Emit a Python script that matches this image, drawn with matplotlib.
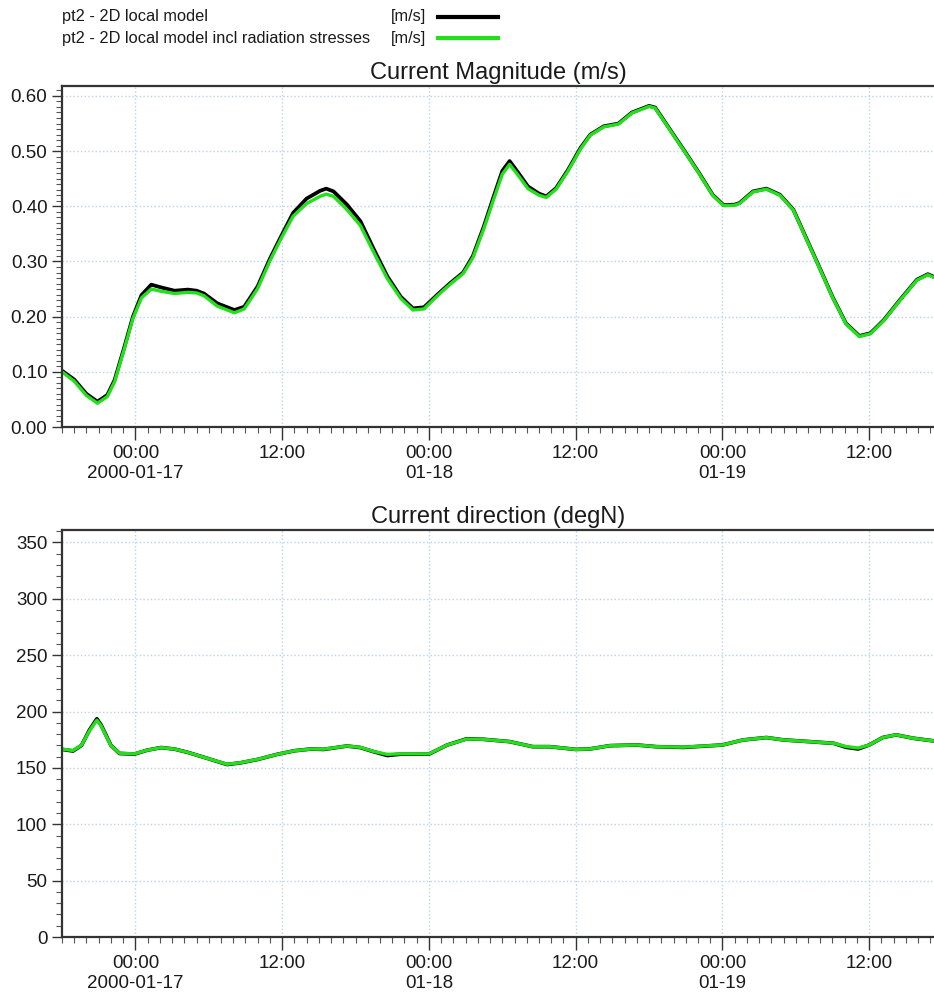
import matplotlib
matplotlib.use('Agg')
import matplotlib.pyplot as plt
import matplotlib.dates as mdates
from matplotlib.ticker import MultipleLocator, FuncFormatter
from matplotlib.lines import Line2D
import pandas as pd

plt.rcParams['font.family'] = ['Liberation Sans', 'DejaVu Sans']

start = pd.Timestamp('2000-01-16 18:00')

# hours after start, current magnitude (m/s)
mag_hours = [0, 1.0, 2.0, 2.9, 3.7, 4.3, 5.1, 5.8, 6.5, 7.3, 8.1, 9.2, 10.3, 11.0,
             11.6, 12.7, 14.1, 14.9, 16.0, 17.0, 17.9, 18.9, 20.0, 21.1, 21.6, 22.2,
             23.3, 24.4, 25.5, 26.6, 27.7, 28.7, 29.6, 30.7, 31.7, 32.8, 33.6, 34.5,
             35.3, 36.0, 36.6, 37.3, 38.1, 39.0, 39.6, 40.4, 41.4, 42.4, 43.2, 44.3,
             45.5, 46.6, 48.0, 48.5, 49.9, 51.0, 52.1, 53.2, 54.1, 55.0, 55.4, 56.5,
             57.6, 58.7, 59.8, 60.8, 61.9, 63.0, 64.1, 65.2, 66.1, 67.2, 68.5, 69.9,
             70.8, 71.3]
mag_local = [0.102, 0.086, 0.060, 0.046, 0.058, 0.085, 0.145, 0.200, 0.239, 0.258,
             0.253, 0.247, 0.249, 0.247, 0.242, 0.224, 0.212, 0.218, 0.255, 0.305,
             0.345, 0.388, 0.414, 0.428, 0.432, 0.427, 0.403, 0.373, 0.322, 0.273,
             0.236, 0.215, 0.217, 0.240, 0.260, 0.280, 0.310, 0.364, 0.418, 0.464,
             0.482, 0.461, 0.436, 0.423, 0.418, 0.433, 0.467, 0.506, 0.530, 0.545,
             0.550, 0.570, 0.582, 0.579, 0.533, 0.497, 0.460, 0.421, 0.402, 0.403,
             0.406, 0.427, 0.432, 0.421, 0.394, 0.345, 0.291, 0.236, 0.188, 0.165,
             0.170, 0.194, 0.230, 0.267, 0.277, 0.272]
mag_rad = [0.100, 0.083, 0.057, 0.043, 0.055, 0.082, 0.142, 0.197, 0.234, 0.250,
           0.246, 0.242, 0.244, 0.243, 0.238, 0.219, 0.207, 0.214, 0.251, 0.301,
           0.341, 0.382, 0.405, 0.418, 0.422, 0.418, 0.394, 0.365, 0.316, 0.269,
           0.233, 0.212, 0.214, 0.238, 0.258, 0.278, 0.307, 0.360, 0.413, 0.458,
           0.476, 0.456, 0.432, 0.420, 0.416, 0.431, 0.465, 0.504, 0.529, 0.544,
           0.549, 0.569, 0.581, 0.578, 0.532, 0.496, 0.459, 0.420, 0.401, 0.402,
           0.405, 0.426, 0.431, 0.420, 0.393, 0.344, 0.290, 0.235, 0.187, 0.164,
           0.169, 0.193, 0.229, 0.266, 0.276, 0.271]

# hours after start, current direction (degN)
dir_hours = [0, 0.9, 1.6, 2.25, 2.85, 3.2, 4.0, 4.7, 5.9, 7.0, 8.1, 9.2, 10.3, 11.9,
             13.5, 14.6, 16.0, 17.6, 19.0, 20.3, 21.4, 23.3, 24.4, 25.5, 26.6, 27.7,
             30.0, 31.5, 33.1, 34.4, 36.6, 38.5, 39.9, 42.0, 43.1, 44.8, 47.0, 48.6,
             50.8, 54.0, 55.7, 57.6, 59.0, 61.1, 63.1, 64.1, 65.1, 66.0, 67.1, 68.2,
             69.6, 71.3]
dir_local = [166.4, 165.0, 170.0, 183.7, 193.5, 188.0, 170.0, 162.8, 162.2, 165.8,
             168.0, 166.7, 163.7, 158.4, 153.0, 154.5, 157.5, 162.0, 165.2, 166.7,
             166.4, 169.4, 168.0, 164.3, 161.0, 162.2, 162.2, 170.3, 175.8, 175.4,
             173.3, 168.8, 168.8, 166.4, 166.7, 169.7, 170.3, 168.8, 168.2, 170.3,
             174.8, 176.9, 174.8, 173.3, 171.8, 168.3, 166.8, 170.3, 176.9, 179.3,
             176.3, 173.9]
dir_rad = [166.6, 165.4, 170.2, 183.0, 192.3, 187.3, 169.8, 163.0, 162.4, 165.8,
           168.0, 166.7, 163.7, 158.4, 153.2, 154.6, 157.6, 162.0, 165.2, 166.7,
           166.6, 169.4, 168.2, 164.5, 162.0, 162.5, 162.4, 170.3, 175.6, 175.4,
           173.3, 168.8, 168.8, 166.4, 166.7, 169.7, 170.3, 168.8, 168.4, 170.3,
           174.8, 176.9, 174.8, 173.3, 171.8, 169.0, 167.6, 170.3, 176.9, 179.3,
           176.3, 173.9]

t_mag = start + pd.to_timedelta(mag_hours, unit='h')
t_dir = start + pd.to_timedelta(dir_hours, unit='h')
t_end = start + pd.Timedelta(hours=71.3)

fig = plt.figure(figsize=(9.34, 9.96), dpi=100)
ax1 = fig.add_axes([62 / 934, 1 - 427 / 996, 1 - 62 / 934, (427 - 86) / 996])
ax2 = fig.add_axes([62 / 934, 1 - 937 / 996, 1 - 62 / 934, (937 - 530) / 996])

grid_col = '#b9d3ee'


def fmt_date(x, pos):
    d = mdates.num2date(x)
    lab = d.strftime('%H:%M')
    if d.hour == 0:
        if d.day == 17:
            lab += '\n' + d.strftime('%Y-%m-%d')
        else:
            lab += '\n' + d.strftime('%m-%d')
    return lab


for ax in (ax1, ax2):
    ax.set_xlim(start, t_end)
    ax.xaxis.set_major_locator(mdates.HourLocator(byhour=[0, 12]))
    ax.xaxis.set_minor_locator(mdates.HourLocator())
    ax.xaxis.set_major_formatter(FuncFormatter(fmt_date))
    ax.grid(True, which='major', color=grid_col, linestyle=':', linewidth=1.0)
    ax.tick_params(axis='both', which='major', labelsize=13.5, direction='out',
                   length=7, width=1.0, color='#333333', labelcolor='#1a1a1a')
    ax.tick_params(axis='both', which='minor', direction='out', length=4,
                   width=0.8, color='#555555')
    ax.tick_params(axis='x', which='major', length=9, pad=4)
    for s in ('left', 'bottom', 'top'):
        ax.spines[s].set_linewidth(1.6)
        ax.spines[s].set_color('#333333')
    ax.spines['right'].set_visible(False)
    for lab in ax.get_xticklabels():
        lab.set_linespacing(1.25)

ax1.plot(t_mag, mag_local, color='black', linewidth=2.7, solid_capstyle='round')
ax1.plot(t_mag, mag_rad, color='#22e01a', linewidth=2.4, solid_capstyle='round')
ax1.set_ylim(0, 0.618)
ax1.yaxis.set_major_locator(MultipleLocator(0.1))
ax1.yaxis.set_minor_locator(MultipleLocator(0.01))
ax1.yaxis.set_major_formatter(FuncFormatter(lambda v, p: '%.2f' % v))
ax1.set_title('Current Magnitude (m/s)', fontsize=17, pad=5, color='#1a1a1a')

ax2.plot(t_dir, dir_local, color='black', linewidth=2.7, solid_capstyle='round')
ax2.plot(t_dir, dir_rad, color='#22e01a', linewidth=2.4, solid_capstyle='round')
ax2.set_ylim(0, 361)
ax2.yaxis.set_major_locator(MultipleLocator(50))
ax2.yaxis.set_minor_locator(MultipleLocator(10))
ax2.set_title('Current direction (degN)', fontsize=17, pad=5, color='#1a1a1a')

# legend drawn as text plus line samples, like the original header
names = ['pt2 - 2D local model', 'pt2 - 2D local model incl radiation stresses']
colors = ['black', '#22e01a']
ys = [17, 38]
for name, col, yy in zip(names, colors, ys):
    yf = 1 - yy / 996
    fig.text(62 / 934, yf, name, fontsize=11.8, va='center', ha='left', color='#1a1a1a')
    fig.text(426 / 934, yf, '[m/s]', fontsize=11.8, va='center', ha='right', color='#1a1a1a')
    fig.add_artist(Line2D([438 / 934, 498 / 934], [yf, yf], color=col,
                          linewidth=3, transform=fig.transFigure))

fig.savefig('out.png', dpi=100)
